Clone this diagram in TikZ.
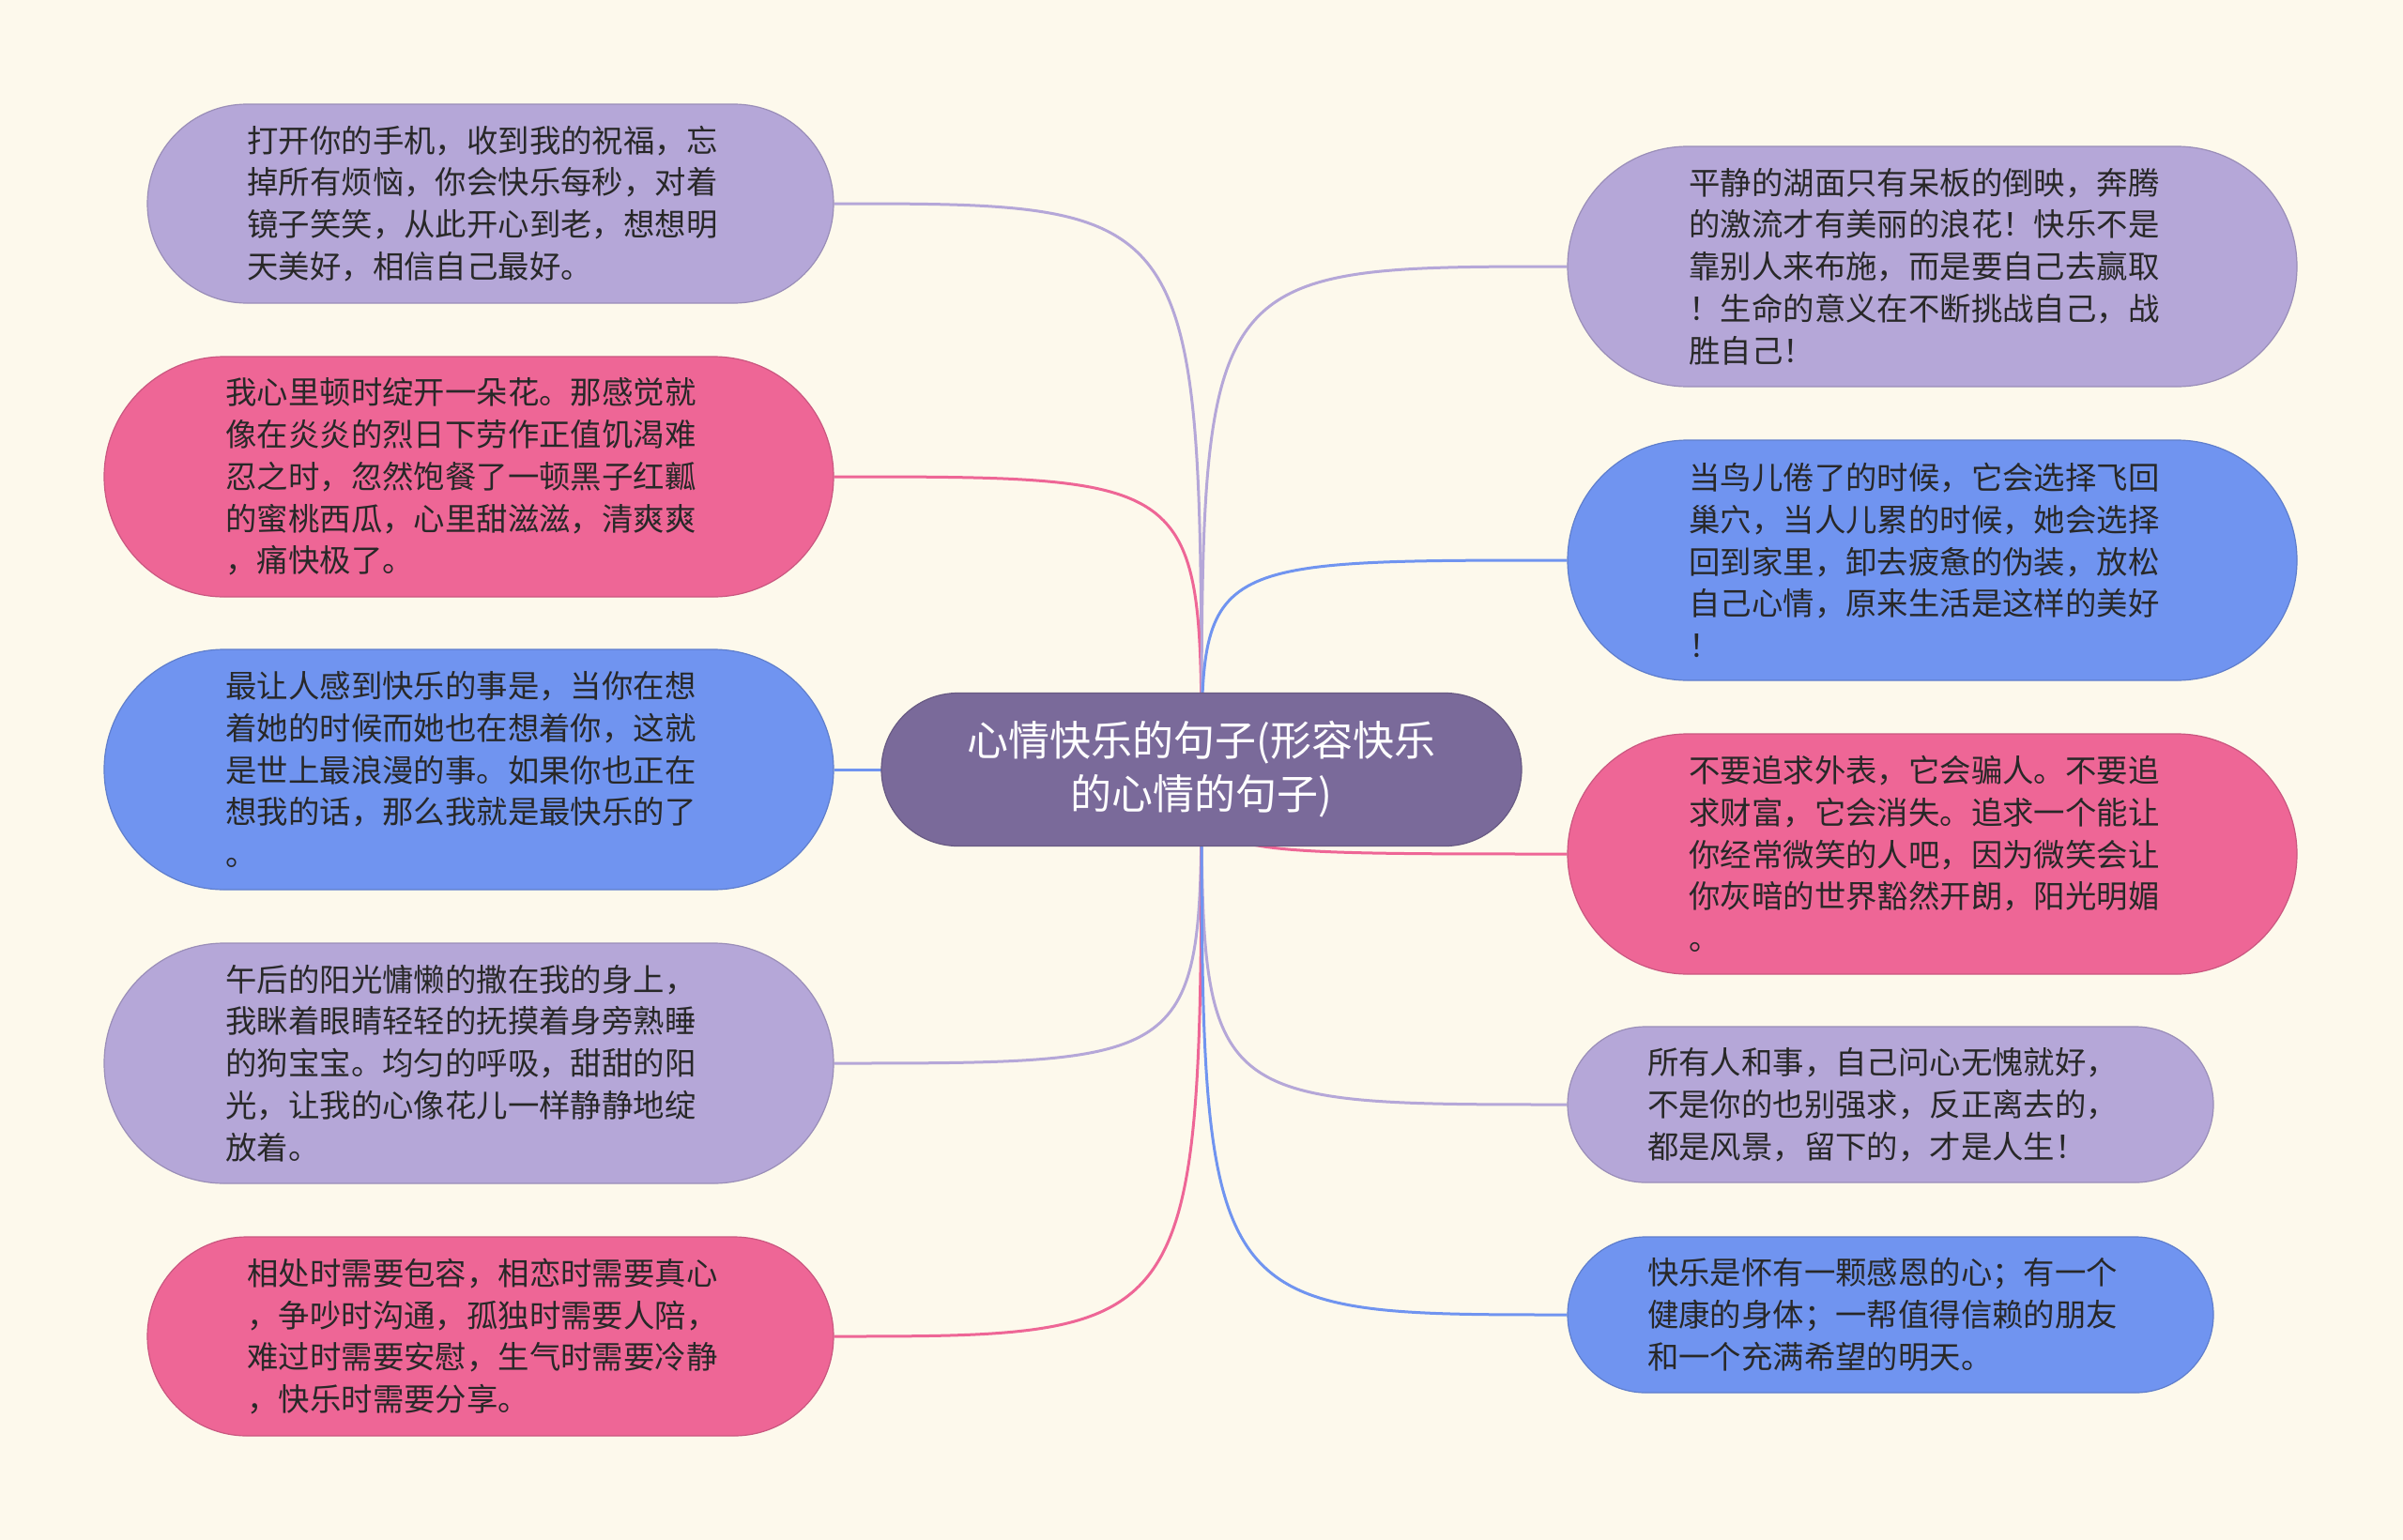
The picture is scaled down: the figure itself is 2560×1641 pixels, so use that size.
\documentclass[tikz,border=0pt]{standalone}
\usepackage{fontspec}
\newfontfamily\cjk{Noto Sans CJK SC}
\definecolor{bgc}{RGB}{253,249,236}
\definecolor{cpur}{RGB}{181,167,216}
\definecolor{cpink}{RGB}{238,102,150}
\definecolor{cblue}{RGB}{112,148,240}
\definecolor{cmid}{RGB}{122,106,154}
\definecolor{ctext}{RGB}{40,40,40}
\pgfdeclarelayer{bglayer}
\pgfdeclarelayer{edgelayer}
\pgfsetlayers{bglayer,edgelayer,main}
\tikzset{
  leaf/.style={draw=#1!85!black, fill=#1, line width=1.2pt, align=left,
    text=ctext, inner sep=0pt, text width=518,
    font=\cjk\fontsize{33.4}{44.8}\selectfont},
  h5/.style={minimum height=256, rounded corners=128},
  h4/.style={minimum height=212, rounded corners=106},
  h3/.style={minimum height=166, rounded corners=83},
  wide/.style={minimum width=777},
  mid/.style={minimum width=731},
  narrow/.style={minimum width=688},
  link/.style={draw=#1, line width=3pt},
  rootbox/.style={draw=cmid!85!black, fill=cmid, line width=1.2pt, align=center,
    text=white, minimum width=682, minimum height=163, rounded corners=81.5,
    font=\cjk\fontsize{44}{57}\selectfont}
}
\begin{document}
\begin{tikzpicture}[x=1pt,y=-1pt]
\begin{pgfonlayer}{bglayer}
\fill[bgc] (0,0) rectangle (2560,1641);
\end{pgfonlayer}
\useasboundingbox (0,0) rectangle (2560,1641);

\node[rootbox] (root) at (1280,820) {心情快乐的句子(形容快乐\\的心情的句子)};

\node[leaf=cpur, h4, mid] (l1) at (522.5,217) {打开你的手机，收到我的祝福，忘\\掉所有烦恼，你会快乐每秒，对着\\镜子笑笑，从此开心到老，想想明\\天美好，相信自己最好。};
\node[leaf=cpink, h5, wide] (l2) at (499.5,508) {我心里顿时绽开一朵花。那感觉就\\像在炎炎的烈日下劳作正值饥渴难\\忍之时，忽然饱餐了一顿黑子红瓤\\的蜜桃西瓜，心里甜滋滋，清爽爽\\，痛快极了。};
\node[leaf=cblue, h5, wide] (l3) at (499.5,820) {最让人感到快乐的事是，当你在想\\着她的时候而她也在想着你，这就\\是世上最浪漫的事。如果你也正在\\想我的话，那么我就是最快乐的了\\。};
\node[leaf=cpur, h5, wide] (l4) at (499.5,1133) {午后的阳光慵懒的撒在我的身上，\\我眯着眼睛轻轻的抚摸着身旁熟睡\\的狗宝宝。均匀的呼吸，甜甜的阳\\光，让我的心像花儿一样静静地绽\\放着。};
\node[leaf=cpink, h4, mid] (l5) at (522.5,1424) {相处时需要包容，相恋时需要真心\\，争吵时沟通，孤独时需要人陪，\\难过时需要安慰，生气时需要冷静\\，快乐时需要分享。};

\node[leaf=cpur, h5, wide] (r1) at (2058.5,284) {平静的湖面只有呆板的倒映，奔腾\\的激流才有美丽的浪花！快乐不是\\靠别人来布施，而是要自己去赢取\\！生命的意义在不断挑战自己，战\\胜自己！};
\node[leaf=cblue, h5, wide] (r2) at (2058.5,597) {当鸟儿倦了的时候，它会选择飞回\\巢穴，当人儿累的时候，她会选择\\回到家里，卸去疲惫的伪装，放松\\自己心情，原来生活是这样的美好\\！};
\node[leaf=cpink, h5, wide] (r3) at (2058.5,910) {不要追求外表，它会骗人。不要追\\求财富，它会消失。追求一个能让\\你经常微笑的人吧，因为微笑会让\\你灰暗的世界豁然开朗，阳光明媚\\。};
\node[leaf=cpur, h3, narrow] (r4) at (2014,1177) {所有人和事，自己问心无愧就好，\\不是你的也别强求，反正离去的，\\都是风景，留下的，才是人生！};
\node[leaf=cblue, h3, narrow] (r5) at (2014,1401) {快乐是怀有一颗感恩的心；有一个\\健康的身体；一帮值得信赖的朋友\\和一个充满希望的明天。};

\begin{pgfonlayer}{edgelayer}
\draw[link=cpur]  (root.center) .. controls (root.center |- l1.east) .. (l1.east);
\draw[link=cpink] (root.center) .. controls (root.center |- l2.east) .. (l2.east);
\draw[link=cblue] (root.center) -- (l3.east);
\draw[link=cpur]  (root.center) .. controls (root.center |- l4.east) .. (l4.east);
\draw[link=cpink] (root.center) .. controls (root.center |- l5.east) .. (l5.east);
\draw[link=cpur]  (root.center) .. controls (root.center |- r1.west) .. (r1.west);
\draw[link=cblue] (root.center) .. controls (root.center |- r2.west) .. (r2.west);
\draw[link=cpink] (root.center) .. controls (root.center |- r3.west) .. (r3.west);
\draw[link=cpur]  (root.center) .. controls (root.center |- r4.west) .. (r4.west);
\draw[link=cblue] (root.center) .. controls (root.center |- r5.west) .. (r5.west);
\end{pgfonlayer}
\end{tikzpicture}
\end{document}
